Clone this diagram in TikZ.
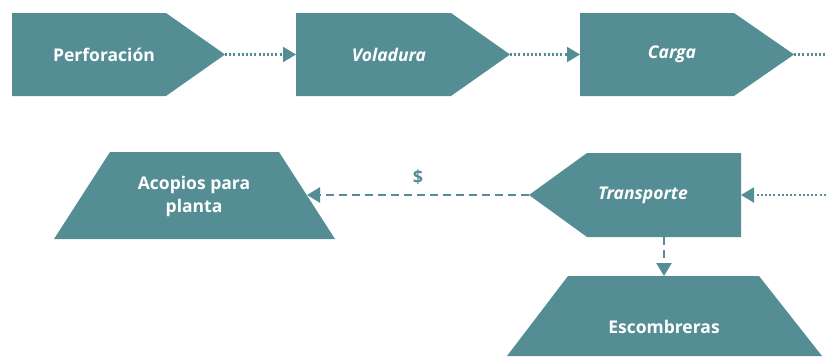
\documentclass[tikz,border=0pt]{standalone}
\usepackage{fontspec}
\setmainfont{Open Sans}
\usetikzlibrary{arrows.meta}
\usetikzlibrary{positioning}
\usetikzlibrary{calc}

\definecolor{teal1}{RGB}{84,142,148}

\tikzset{
  stage/.style={fill=teal1, draw=none},
  lbl/.style={text=white, font=\bfseries\fontsize{17.5}{23}\selectfont, align=center},
  flowdot/.style={teal1, line width=2.2pt, dash pattern=on 2pt off 2.2pt,
    -{Triangle[length=13pt,width=15pt]}},
  flowdash/.style={teal1, line width=2.6pt, dash pattern=on 8pt off 5pt,
    -{Triangle[length=13pt,width=15pt]}}
}

\begin{document}
\begin{tikzpicture}[x=1pt, y=-1pt]
    \useasboundingbox (0,0) rectangle (827,356);

    % Top row of stages
    \fill[stage] (12,13) -- (166,13) -- (225,54.5) -- (166,96) -- (12,96) -- cycle;
    \fill[stage] (296,13) -- (451,13) -- (510,54.5) -- (451,96) -- (296,96) -- cycle;
    \fill[stage] (580,13) -- (734,13) -- (794,54.5) -- (734,96) -- (580,96) -- cycle;

    \node[lbl] (perf) at (104,54.5) {Perforación};
    \node[lbl] (vol) at (389,54.5) {\itshape Voladura};
    \node[lbl] (carga) at (672,54.5) {\itshape Carga};

    \coordinate (perf-out) at (225,54.5);
    \coordinate (vol-in) at (296,54.5);
    \coordinate (vol-out) at (510,54.5);
    \coordinate (carga-in) at (580,54.5);
    \coordinate (carga-out) at (794,54.5);
    \coordinate (edge-top) at (830,54.5);

    % Second row
    \fill[stage] (741,153) -- (587,153) -- (529,195) -- (587,237) -- (741,237) -- cycle;
    \fill[stage] (110,152) -- (279,152) -- (335,239) -- (54,239) -- cycle;
    \fill[stage] (568,276) -- (759,276) -- (822,356) -- (507,356) -- cycle;

    \node[lbl] (trans) at (643,195) {\itshape Transporte};
    \node[lbl] (acop) at (194,196) {Acopios para\\planta};
    \node[lbl] (escomb) at (664,327) {Escombreras};

    \coordinate (trans-in) at (741,195);
    \coordinate (trans-out) at (529,195);
    \coordinate (trans-bot) at (664,237);
    \coordinate (acop-in) at (307,195);
    \coordinate (escomb-in) at (664,276);
    \coordinate (edge-mid) at (830,195);

    % Connectors
    \draw[flowdot] (perf-out) -- (vol-in);
    \draw[flowdot] (vol-out) -- (carga-in);
    \draw[flowdot, -] (carga-out) -- (edge-top);
    \draw[flowdot] (edge-mid) -- (trans-in);
    \draw[flowdash] (trans-out) -- node[above=6pt, text=teal1, font=\bfseries\fontsize{18}{23}\selectfont] (money) {\$} (acop-in);
    \draw[flowdash] (trans-bot) -- (escomb-in);
\end{tikzpicture}
\end{document}
